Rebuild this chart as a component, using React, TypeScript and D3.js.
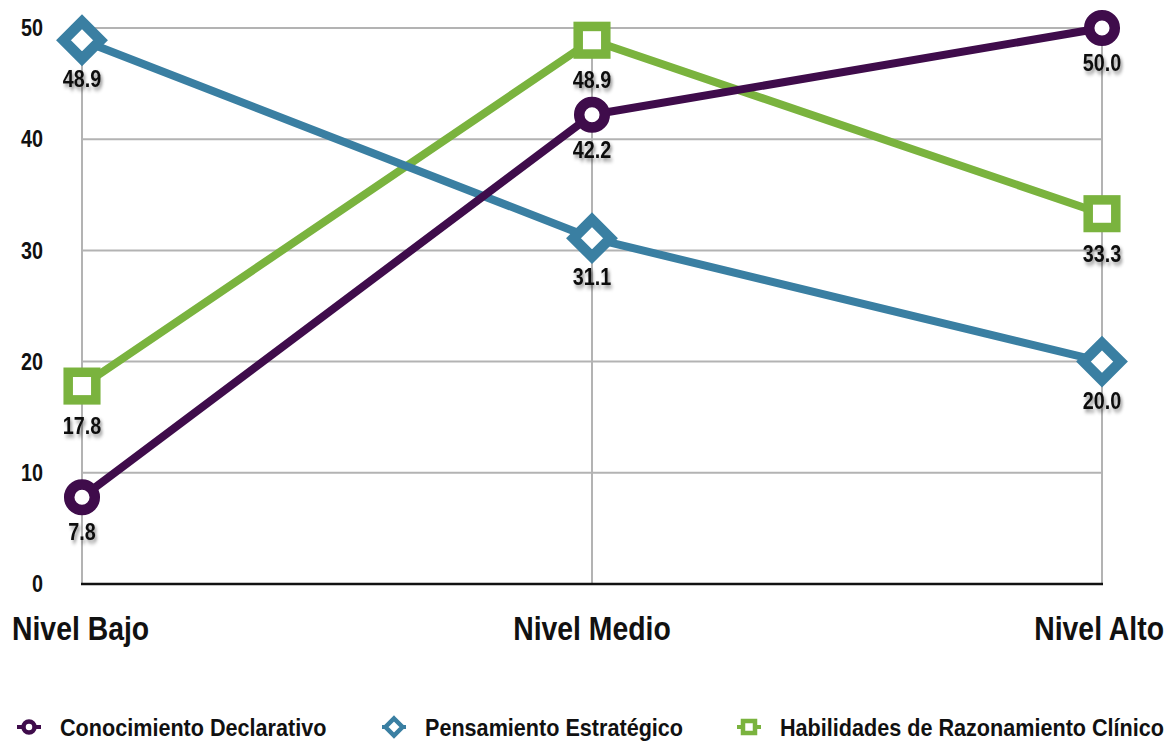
import React from "react";
import * as d3 from "d3";

const categories = ["Nivel Bajo", "Nivel Medio", "Nivel Alto"];
const seriesNames = [
  "Conocimiento Declarativo",
  "Pensamiento Estratégico",
  "Habilidades de Razonamiento Clínico",
];
const conocimiento = [7.8, 42.2, 50.0];
const pensamiento = [48.9, 31.1, 20.0];
const habilidades = [17.8, 48.9, 33.3];
const yTicks = [0, 10, 20, 30, 40, 50];

const colors = ["#3f0c4b", "#3a7fa2", "#7ab33e"];
const shapes = ["circle", "diamond", "square"];
const seriesValues = [conocimiento, pensamiento, habilidades];

const W = 1172;
const H = 745;
const FONT = "'Liberation Sans Narrow', 'Arial Narrow', 'Liberation Sans', Arial, sans-serif";

const x = d3.scalePoint<string>().domain(categories).range([82, 1102]);
const y = d3.scaleLinear().domain([0, 50]).range([584, 28]);

// distance from a marker's centre to its value label baseline
const labelOffset: Record<string, number> = { circle: 43, diamond: 47, square: 48 };

// Bold text, horizontally condensed by `squeeze`
function Label({
  x: tx,
  y: ty,
  size,
  squeeze,
  anchor = "start",
  dy,
  shadow,
  children,
}: {
  x: number;
  y: number;
  size: number;
  squeeze: number;
  anchor?: "start" | "middle" | "end";
  dy?: string;
  shadow?: boolean;
  children: React.ReactNode;
}) {
  return (
    <g transform={`translate(${tx},${ty}) scale(${squeeze},1)`}>
      <text
        dy={dy}
        textAnchor={anchor}
        fontSize={size}
        fontWeight="bold"
        fill="#111"
        filter={shadow ? "url(#lblShadow)" : undefined}
      >
        {children}
      </text>
    </g>
  );
}

function Marker({ shape, cx, cy, color, big }: { shape: string; cx: number; cy: number; color: string; big: boolean }) {
  if (shape === "circle") {
    const r = big ? 12.8 : 5.5;
    const sw = big ? 10.5 : 4.5;
    return <circle cx={cx} cy={cy} r={r} fill="#fff" stroke={color} strokeWidth={sw} />;
  }
  if (shape === "diamond") {
    const s = big ? 18.5 : 8.5;
    const sw = big ? 10.5 : 4.5;
    return (
      <path
        d={`M${cx},${cy - s}L${cx + s},${cy}L${cx},${cy + s}L${cx - s},${cy}Z`}
        fill="#fff"
        stroke={color}
        strokeWidth={sw}
        strokeLinejoin="miter"
      />
    );
  }
  const h = big ? 13.8 : 6;
  const sw = big ? 9.5 : 4.5;
  return <rect x={cx - h} y={cy - h} width={2 * h} height={2 * h} fill="#fff" stroke={color} strokeWidth={sw} />;
}

export default function App() {
  const line = d3
    .line<number>()
    .x((_, i) => x(categories[i]) as number)
    .y((d) => y(d));

  const order = [2, 1, 0];
  const legendX = [29, 394, 749];

  return (
    <svg width={W} height={H} style={{ position: "absolute", left: 0, top: 0 }} fontFamily={FONT}>
      <defs>
        <filter id="lblShadow" x="-30%" y="-30%" width="160%" height="180%">
          <feDropShadow dx="2" dy="3" stdDeviation="2" floodColor="#000" floodOpacity="0.45" />
        </filter>
      </defs>
      <rect width={W} height={H} fill="#fff" />

      {/* gridlines */}
      {yTicks.filter((t) => t > 0).map((t) => (
        <line key={t} x1={82} x2={1102} y1={y(t)} y2={y(t)} stroke="#b3b3b3" strokeWidth={2} />
      ))}
      {categories.map((c) => (
        <line key={c} x1={x(c)} x2={x(c)} y1={y(50)} y2={y(0)} stroke="#b3b3b3" strokeWidth={2} />
      ))}
      <line x1={81} x2={1103} y1={y(0)} y2={y(0)} stroke="#111" strokeWidth={2.5} />

      {/* y tick labels */}
      {yTicks.map((t) => (
        <Label key={t} x={43} y={y(t)} dy="0.36em" anchor="end" size={23} squeeze={0.86}>
          {t}
        </Label>
      ))}

      {/* category labels */}
      {categories.map((c, i) => (
        <Label
          key={c}
          x={i === 0 ? 12 : i === 2 ? 1164 : (x(c) as number)}
          y={640}
          anchor={i === 0 ? "start" : i === 2 ? "end" : "middle"}
          size={33}
          squeeze={0.86}
        >
          {c}
        </Label>
      ))}

      {/* series lines */}
      {order.map((s) => (
        <path key={s} d={line(seriesValues[s]) || ""} fill="none" stroke={colors[s]} strokeWidth={8} strokeLinejoin="round" />
      ))}

      {/* markers */}
      {order.map((s) =>
        seriesValues[s].map((v, i) => (
          <Marker key={`${s}-${i}`} shape={shapes[s]} cx={x(categories[i]) as number} cy={y(v)} color={colors[s]} big />
        ))
      )}

      {/* value labels */}
      {order.map((s) =>
        seriesValues[s].map((v, i) => (
          <Label
            key={`l${s}-${i}`}
            x={x(categories[i]) as number}
            y={y(v) + labelOffset[shapes[s]]}
            anchor="middle"
            size={23}
            squeeze={0.86}
            shadow
          >
            {v.toFixed(1)}
          </Label>
        ))
      )}

      {/* legend */}
      {seriesNames.map((n, s) => (
        <g key={n}>
          <line x1={legendX[s] - 12} x2={legendX[s] + 12} y1={727} y2={727} stroke={colors[s]} strokeWidth={4} />
          <Marker shape={shapes[s]} cx={legendX[s]} cy={727} color={colors[s]} big={false} />
          <Label x={legendX[s] + 31} y={727} dy="0.36em" size={24} squeeze={0.9}>
            {n}
          </Label>
        </g>
      ))}
    </svg>
  );
}
